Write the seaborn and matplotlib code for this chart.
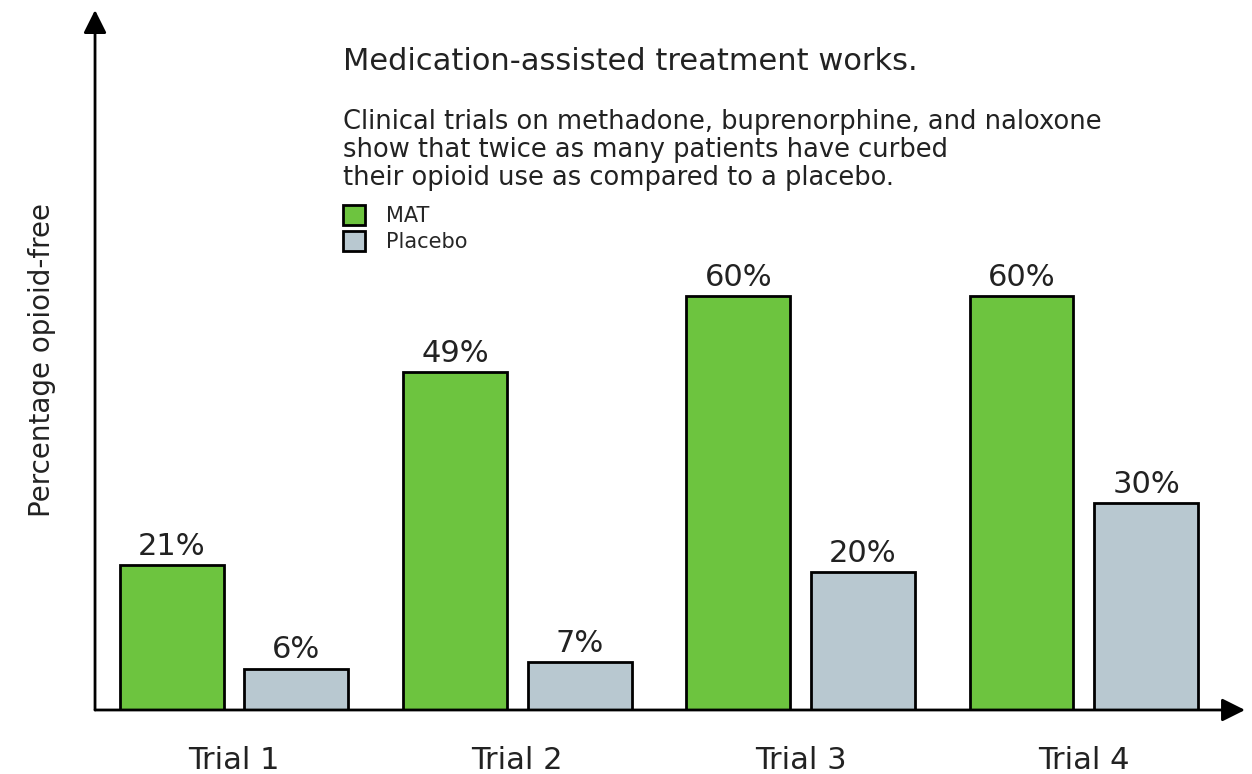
import numpy as np
import pandas as pd
import matplotlib
matplotlib.use('Agg')
import matplotlib.pyplot as plt
import seaborn as sns

# dados
trials = ['Trial 1', 'Trial 2', 'Trial 3', 'Trial 4']
mat = [21, 49, 60, 60]
placebo = [6, 7, 20, 30]
grupos = ['MAT', 'Placebo']
cores = ['#6dc43f', '#b8c8d0']

df = pd.DataFrame({
    'Trial': trials * 2,
    'Grupo': ['MAT'] * 4 + ['Placebo'] * 4,
    'Valor': mat + placebo,
})

sns.set_style('white')
plt.rcParams['font.family'] = ['DejaVu Sans']

fig = plt.figure(figsize=(12.52, 7.74), dpi=100)
ax = fig.add_axes([0.0759, 0.0827, 0.9185, 0.9043])

sns.barplot(data=df, x='Trial', y='Valor', hue='Grupo', order=trials,
            hue_order=grupos, palette=cores, width=0.88, gap=0.166,
            edgecolor='black', linewidth=2.0, saturation=1, ax=ax)

ax.set_xlim(-0.491, 3.569)
ax.set_ylim(0, 101.4)

# rótulos das barras
for cont in ax.containers:
    ax.bar_label(cont, labels=[f'{int(v)}%' for v in cont.datavalues],
                 padding=3, fontsize=22, color='#222222')

for s in ax.spines.values():
    s.set_visible(False)
ax.set_yticks([])
ax.tick_params(axis='x', length=0, labelsize=22, pad=26, colors='#222222')
ax.set_xlabel('')
ax.set_ylabel('Percentage opioid-free', fontsize=20, labelpad=28, color='#222222')

# eixos com setas
ax.annotate('', xy=(0, 1.0), xytext=(0, 0), xycoords='axes fraction',
            arrowprops=dict(arrowstyle='-|>', lw=2, color='black', mutation_scale=35,
                            shrinkA=0, shrinkB=0))
ax.annotate('', xy=(1.0, 0), xytext=(0, 0), xycoords='axes fraction',
            arrowprops=dict(arrowstyle='-|>', lw=2, color='black', mutation_scale=35,
                            shrinkA=0, shrinkB=0))

# textos
fig.text(0.274, 0.920, 'Medication-assisted treatment works.', fontsize=22,
         color='#222222', va='center')
fig.text(0.274, 0.806,
         'Clinical trials on methadone, buprenorphine, and naloxone\n'
         'show that twice as many patients have curbed\n'
         'their opioid use as compared to a placebo.',
         fontsize=18.5, color='#222222', va='center', linespacing=1.1)

sns.move_legend(ax, 'upper left', bbox_to_anchor=(0.2586, 0.759),
                bbox_transform=fig.transFigure, frameon=False, title=None,
                fontsize=15, handlelength=1.1, handleheight=1.1,
                labelspacing=0.2, handletextpad=1.0)

fig.savefig('out.png', dpi=100)
